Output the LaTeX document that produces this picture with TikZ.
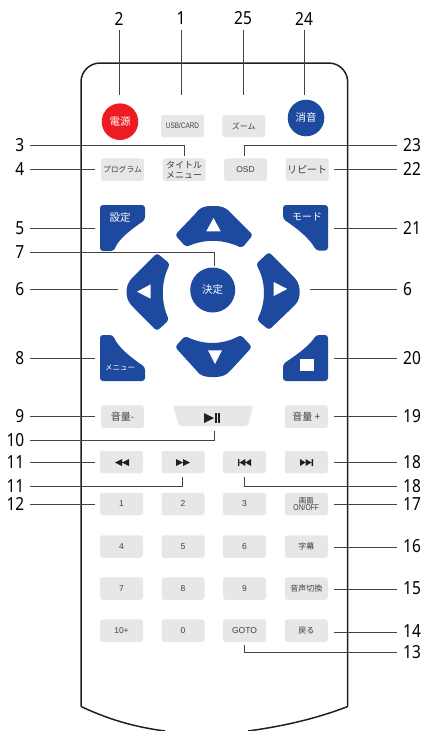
\documentclass[tikz,border=0pt]{standalone}
\usepackage{fontspec}
\setmainfont{Liberation Sans}
\newfontfamily\jp{Noto Sans CJK JP}
\newfontfamily\numf[FakeStretch=0.86]{Noto Sans}
\newfontfamily\narrowf[FakeStretch=0.8]{Liberation Sans}
\definecolor{rblue}{HTML}{1D4A9E}
\definecolor{rred}{HTML}{ED1C24}
\definecolor{rgray}{HTML}{E6E7E8}
\definecolor{rink}{HTML}{231F20}
\definecolor{rtxt}{HTML}{3F3F41}
\tikzset{
 key/.style={fill=rgray,rounded corners=2.5pt,minimum width=43pt,minimum height=22.5pt,inner sep=0pt,text=rtxt,align=center,font=\fontsize{8.5}{9}\selectfont},
 jpk/.style={key,font=\jp\fontsize{#1}{#1}\selectfont},
 round/.style={circle,fill=#1,minimum size=36.6pt,inner sep=0pt,text=white,font=\jp\fontsize{10.5}{11}\selectfont},
 lnum/.style={font=\numf\fontsize{18}{18}\selectfont,text=black,inner sep=0pt},
 ll/.style={lnum,anchor=east},
 rl/.style={lnum,anchor=west},
 tl/.style={lnum},
 lead/.style={draw=rink!85,line width=0.9pt},
 lfrom/.style={lead,shorten <=5.5pt},
 rfrom/.style={lead,shorten <=6pt},
 tfrom/.style={lead,shorten <=5pt},
 pad/.style={fill=rblue,draw=none,rounded corners=3pt},
 ico/.style={fill=#1,draw=none},
 ico/.default=rink,
 padtxt/.style={text=white,inner sep=0pt,font=\jp\fontsize{#1}{#1}\selectfont},
}
\begin{document}
\begin{tikzpicture}[x=1pt,y=-1pt]
\useasboundingbox (0,0) rectangle (423,731);
% body
\draw[rink,line width=1.5pt,rounded corners=19pt] (81,706.5) -- (81,63) -- (347.7,63) -- (347.7,706.5);
\draw[rink,line width=1.5pt] (81,706.5) .. controls (110,720) and (135,727) .. (165,731);
\draw[rink,line width=1.5pt] (347.7,706.5) .. controls (318,718) and (285,726) .. (248,731);

% top row
\node[round=rred] (power) at (120,121.7) {電源};
\node[key,font=\narrowf\fontsize{8}{8}\selectfont] (usb) at (182.5,126) {USB/CARD};
\node[jpk=8] (zoomk) at (243.8,126) {ズーム};
\node[round=rblue] (mute) at (306,118) {消音};
% second row
\node[jpk=7.8] (prog) at (122.5,169.7) {プログラム};
\node[jpk=9,inner sep=0pt,font=\jp\fontsize{9}{10}\selectfont] (title) at (184.2,169.7) {タイトル\\メニュー};
\node[key,font=\fontsize{8.5}{9}\selectfont] (osd) at (245.5,169.7) {OSD};
\node[jpk=10] (rep) at (307.2,169.7) {リピート};

% pad corner keys
\path[pad] (100,205) -- (145,205) -- (145,220) .. controls (130,230) and (118,240) .. (114,251) -- (100,251) -- cycle;
\path[pad] (328,205) -- (283,205) -- (283,219) .. controls (298,229) and (310,239) .. (316,250.5) -- (328,250.5) -- cycle;
\path[pad] (100,381) -- (145,381) -- (145,367) .. controls (130,357) and (118,347) .. (113,335) -- (100,335) -- cycle;
\path[pad] (328,381) -- (283,381) -- (283,364) .. controls (298,354) and (310,345) .. (316,335) -- (328,335) -- cycle;
\node[padtxt=10.5] (setk) at (120,218) {設定};
\node[padtxt=10] (modek) at (307,217) {モード};
\node[padtxt=7.5] (menuk) at (120,368) {メニュー};
\path[fill=white] (300,359) rectangle (314,371);

% direction pad
\path[fill=rblue,rounded corners=3pt] (175,235) -- (196,213) .. controls (200,208) and (205,206) .. (213,206) .. controls (221,206) and (226,208) .. (231,213) -- (253,235) -- (242,248) .. controls (222,239) and (205,239) .. (186,247) -- cycle;
\path[fill=rblue,rounded corners=3pt] (175,347) -- (196,370) .. controls (200,375) and (205,377) .. (213,377) .. controls (221,377) and (226,375) .. (231,370) -- (252,347) -- (241,335) .. controls (222,345) and (204,345) .. (185,336) -- cycle;
\path[fill=rblue,rounded corners=3pt] (157,253) -- (170,264) .. controls (161,282) and (161,302) .. (169,320) -- (157,331) -- (133,307) .. controls (125,298) and (125,286) .. (133,277) -- cycle;
\path[fill=rblue,rounded corners=3pt] (269,252) -- (256,264) .. controls (266,282) and (266,302) .. (257,320) -- (269,330) -- (294,306) .. controls (301,298) and (301,286) .. (294,277) -- cycle;
\path[fill=white] (213.5,218) -- (206.3,231.3) -- (220.7,231.3) -- cycle;
\path[fill=white] (208,350.3) -- (222,350.3) -- (215,364) -- cycle;
\path[fill=white] (150.7,284.3) -- (150.7,298.7) -- (137,291.7) -- cycle;
\path[fill=white] (273.7,282) -- (273.7,296) -- (287.3,289) -- cycle;
\node[round=rblue,minimum size=45pt] (ok) at (212.7,290) {決定};

% volume row
\node[jpk=10] (voldn) at (122.5,416.7) {音量-};
\path[fill=rgray,rounded corners=2pt] (173,405.7) -- (253,405.7) -- (248,426) -- (179,426) -- cycle;
\node[jpk=10] (volup) at (306.3,416.7) {音量 +};
\path[ico] (204,413) -- (214,418) -- (204,423) -- cycle;
\path[ico] (215,413) rectangle (216.6,423);
\path[ico] (218,413) rectangle (219.6,423);

% transport row
\node[key] (rew) at (121.5,462) {};
\node[key] (ffw) at (183,462) {};
\node[key] (prev) at (244.5,462) {};
\node[key] (next) at (306.3,462) {};
\path[ico] (115,462.5) -- (122,459) -- (122,466) -- cycle (122,462.5) -- (129,459) -- (129,466) -- cycle;
\path[ico] (176,459) -- (183,462.5) -- (176,466) -- cycle (183,459) -- (190,462.5) -- (183,466) -- cycle;
\path[ico] (238,459) rectangle (239.3,466) (239.5,462.5) -- (245.3,459) -- (245.3,466) -- cycle (245.3,462.5) -- (251,459) -- (251,466) -- cycle;
\path[ico] (300,459) -- (305.5,462.5) -- (300,466) -- cycle (305.5,459) -- (311.5,462.5) -- (305.5,466) -- cycle (311.7,459) rectangle (313,466);

% number keys
\node[key] (k1) at (121.5,504) {1};
\node[key] (k2) at (183,504) {2};
\node[key] (k3) at (244.5,504) {3};
\node[key,font=\jp\fontsize{7.5}{8}\selectfont] (scr) at (306.3,504) {画面\\[-1pt]{\narrowf\fontsize{8.5}{9}\selectfont ON/OFF}};
\node[key] (k4) at (121.5,546.5) {4};
\node[key] (k5) at (183,546.5) {5};
\node[key] (k6) at (244.5,546.5) {6};
\node[jpk=8] (sub) at (306.3,546.5) {字幕};
\node[key] (k7) at (121.5,588.5) {7};
\node[key] (k8) at (183,588.5) {8};
\node[key] (k9) at (244.5,588.5) {9};
\node[jpk=8] (aud) at (306.3,588.5) {音声切換};
\node[key] (k10) at (121.5,630.7) {10+};
\node[key] (k0) at (183,630.7) {0};
\node[key,font=\fontsize{8.5}{9}\selectfont] (gotok) at (244.5,630.7) {GOTO};
\node[jpk=8] (back) at (306.3,630.7) {戻る};

% labels top
\node[tl] (n2) at (119,18.5) {2};
\node[tl] (n1) at (181,18.5) {1};
\node[tl] (n25) at (243,18.5) {25};
\node[tl] (n24) at (304,18.5) {24};
% labels left
\node[ll] (n3) at (24.5,145) {3};
\node[ll] (n4) at (24.5,169) {4};
\node[ll] (n5) at (24.5,228) {5};
\node[ll] (n7) at (24.5,252) {7};
\node[ll] (n6a) at (24.5,289.5) {6};
\node[ll] (n8) at (24.5,358) {8};
\node[ll] (n9) at (24.5,416) {9};
\node[ll] (n10) at (24.5,440) {10};
\node[ll] (n11a) at (24.5,462) {11};
\node[ll] (n11b) at (24.5,486) {11};
\node[ll] (n12) at (24.5,504) {12};
% labels right
\node[rl] (n23) at (403,145) {23};
\node[rl] (n22) at (403,169) {22};
\node[rl] (n21) at (403,228) {21};
\node[rl] (n6b) at (403,289.5) {6};
\node[rl] (n20) at (403,358) {20};
\node[rl] (n19) at (403,416) {19};
\node[rl] (n18a) at (403,462) {18};
\node[rl] (n18b) at (403,486) {18};
\node[rl] (n17) at (403,504) {17};
\node[rl] (n16) at (403,546) {16};
\node[rl] (n15) at (403,588) {15};
\node[rl] (n14) at (403,631) {14};
\node[rl] (n13) at (403,652) {13};

% free ends
\coordinate (e2) at (119.7,95);
\coordinate (e1) at (181,95);
\coordinate (e25) at (243,95);
\coordinate (e24) at (304,95);
\coordinate (e3) at (184,155.5);
\coordinate (e23) at (244.5,155.5);
\coordinate (e4) at (95,169);
\coordinate (e22) at (334,169);
\coordinate (e5) at (94.5,228);
\coordinate (e21) at (334,228);
\coordinate (e7) at (214,266);
\coordinate (e6a) at (118,289.5);
\coordinate (e6b) at (310,289.5);
\coordinate (e8) at (94.5,358);
\coordinate (e20) at (334,358);
\coordinate (e9) at (95,416.5);
\coordinate (e19) at (334,416);
\coordinate (e10) at (214,431);
\coordinate (e11a) at (95,462);
\coordinate (e18a) at (334,462);
\coordinate (e11b) at (182,477);
\coordinate (e18b) at (244.5,477);
\coordinate (e12) at (95,504);
\coordinate (e17) at (334,504);
\coordinate (e16) at (334,547);
\coordinate (e15) at (334,589);
\coordinate (e14) at (334,632);
\coordinate (e13) at (244,645);

% leaders
\foreach \a/\b in {n2/e2,n1/e1,n25/e25,n24/e24}{\draw[tfrom] (\a.south -| \b) -- (\b);}
\foreach \a/\b in {n4/e4,n5/e5,n6a/e6a,n8/e8,n9/e9,n11a/e11a,n12/e12}{\draw[lfrom] (\a.east |- \b) -- (\b);}
\foreach \a/\b in {n22/e22,n21/e21,n6b/e6b,n20/e20,n19/e19,n18a/e18a,n17/e17,n16/e16,n15/e15,n14/e14}{\draw[rfrom] (\a.west |- \b) -- (\b);}
\foreach \a/\b in {n3/e3,n7/e7,n10/e10,n11b/e11b}{\draw[lfrom] (\a.east) -| (\b);}
\foreach \a/\b in {n23/e23,n18b/e18b,n13/e13}{\draw[rfrom] (\a.west) -| (\b);}
\end{tikzpicture}
\end{document}
